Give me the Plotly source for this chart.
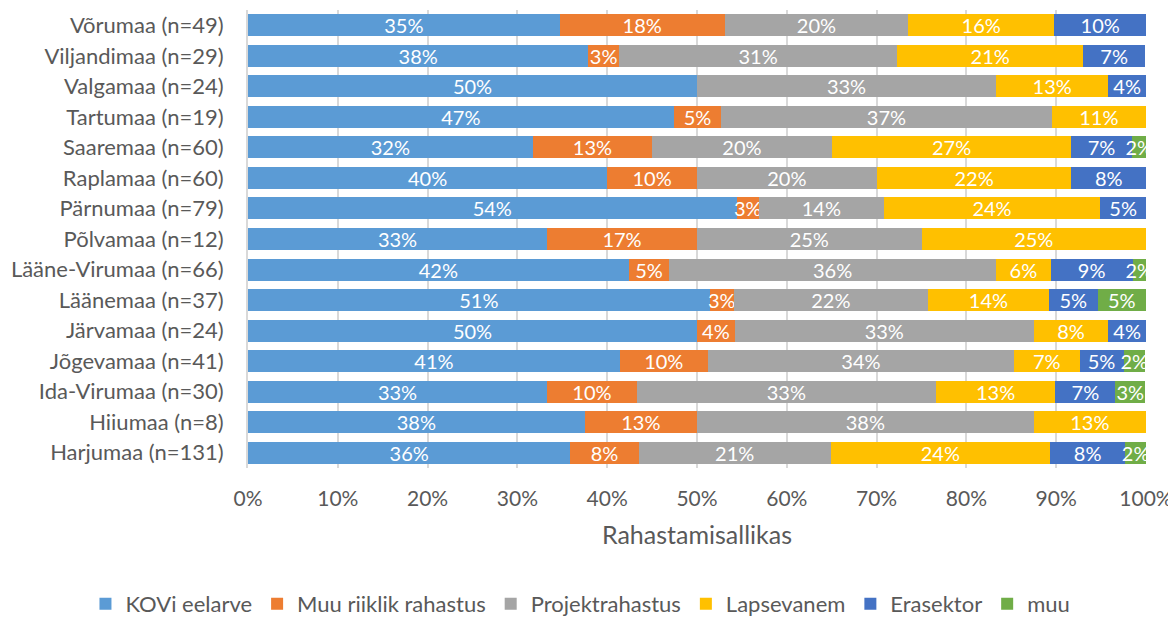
import plotly.graph_objects as go

categories = ["Võrumaa (n=49)", "Viljandimaa (n=29)", "Valgamaa (n=24)", "Tartumaa (n=19)",
              "Saaremaa (n=60)", "Raplamaa (n=60)", "Pärnumaa (n=79)", "Põlvamaa (n=12)",
              "Lääne-Virumaa (n=66)", "Läänemaa (n=37)", "Järvamaa (n=24)", "Jõgevamaa (n=41)",
              "Ida-Virumaa (n=30)", "Hiiumaa (n=8)", "Harjumaa (n=131)"]

kovi       = [34.7, 37.9, 50.0, 47.4, 31.7, 40.0, 54.4, 33.3, 42.4, 51.4, 50.0, 41.4, 33.3, 37.5, 35.9]
muu_riik   = [18.4, 3.4, 0.0, 5.3, 13.3, 10.0, 2.5, 16.7, 4.5, 2.7, 4.2, 9.8, 10.0, 12.5, 7.6]
projekt    = [20.4, 31.0, 33.3, 36.8, 20.0, 20.0, 13.9, 25.0, 36.4, 21.6, 33.3, 34.1, 33.3, 37.5, 21.4]
lapsevanem = [16.3, 20.7, 12.5, 10.5, 26.7, 21.7, 24.1, 25.0, 6.1, 13.5, 8.3, 7.3, 13.3, 12.5, 24.4]
erasektor  = [10.2, 6.9, 4.2, 0.0, 6.7, 8.3, 5.1, 0.0, 9.1, 5.4, 4.2, 4.9, 6.7, 0.0, 8.4]
muu        = [0.0, 0.0, 0.0, 0.0, 1.7, 0.0, 0.0, 0.0, 1.5, 5.4, 0.0, 2.4, 3.3, 0.0, 2.3]

series_names = ["KOVi eelarve", "Muu riiklik rahastus", "Projektrahastus", "Lapsevanem", "Erasektor", "muu"]
series_values = [kovi, muu_riik, projekt, lapsevanem, erasektor, muu]
colors = ["#5B9BD5", "#ED7D31", "#A5A5A5", "#FFC000", "#4472C4", "#70AD47"]

x_ticks = [0, 10, 20, 30, 40, 50, 60, 70, 80, 90, 100]

FONT = "Lato, 'Open Sans', sans-serif"
GREY = "#595959"

fig = go.Figure()
for name, vals, col in zip(series_names, series_values, colors):
    texts = [f"{int(v + 0.5)}%" if v > 0 else "" for v in vals]
    fig.add_trace(go.Bar(
        y=categories, x=vals, name=name, orientation="h",
        marker=dict(color=col, line=dict(width=0)),
        text=texts, textposition="inside", insidetextanchor="middle",
        textangle=0,
        textfont=dict(color="white", size=20, family=FONT),
        constraintext="none", cliponaxis=True,
        hoverinfo="skip",
    ))

fig.update_layout(
    barmode="stack",
    bargap=0.28,
    width=1168, height=609,
    margin=dict(l=240, r=30, t=2, b=149, autoexpand=False),
    plot_bgcolor="white", paper_bgcolor="white",
    font=dict(family=FONT, color=GREY),
    uniformtext=dict(minsize=20, mode="show"),
    showlegend=True,
    legend=dict(orientation="h", x=-0.181, xanchor="left",
                y=-0.297, yanchor="middle",
                font=dict(size=22, color=GREY), traceorder="normal"),
    xaxis=dict(range=[0, 100], tickvals=x_ticks, ticktext=[f"{t}%" for t in x_ticks],
               showgrid=True, gridcolor="#D9D9D9", gridwidth=1.5, zeroline=False,
               tickfont=dict(size=21, color=GREY), ticks="", ticklabelstandoff=16,
               title=dict(text="Rahastamisallikas", font=dict(size=25, color=GREY), standoff=17),
               fixedrange=True),
    yaxis=dict(autorange="reversed", tickfont=dict(size=22, color=GREY), ticks="",
               showline=True, linecolor="#D9D9D9", linewidth=2, ticklabelstandoff=18,
               fixedrange=True),
)

fig.write_html("out.html")
